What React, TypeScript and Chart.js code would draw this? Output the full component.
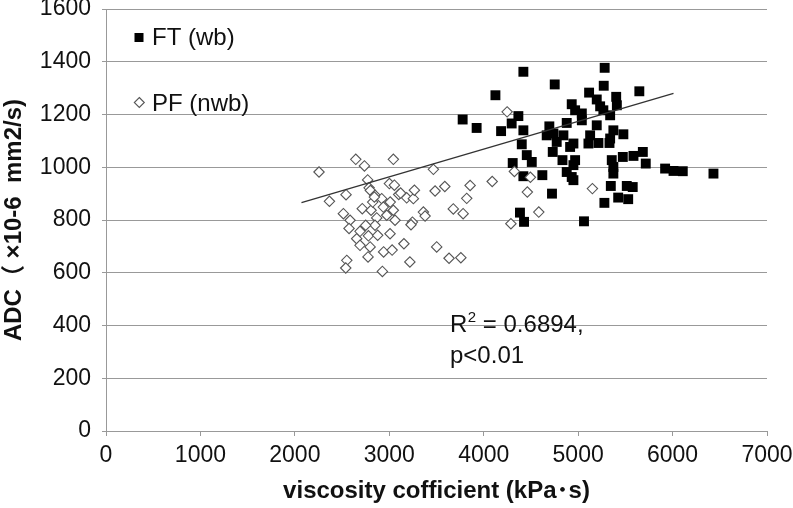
import { useEffect, useRef } from "react";
import { Chart, registerables } from "chart.js";

Chart.register(...registerables);

const FONT = "'Liberation Sans', Arial, 'Noto Sans CJK JP', sans-serif";

// FT (wb) — filled squares
const ftX = [4420, 5281, 4752, 4124, 5271, 5648, 5116, 5197, 5403, 4932, 5233, 5410, 4968, 5039, 5267, 5339, 4367, 3777, 4296, 5039, 4879, 5197, 3925, 4184, 4420, 4695, 5373, 5479, 4667, 4738, 4844, 5127, 5339, 4773, 4403, 4950, 5109, 5215, 5332, 4915, 4731, 4456, 4509, 4307, 4834, 4968, 4950, 5356, 5473, 5586, 5685, 5716, 5373, 5921, 6010, 6108, 6433, 4879, 5373, 4420, 4621, 4932, 4950, 5346, 5515, 5578, 4723, 5424, 5530, 5278, 4384, 4427, 5062];
const ftY = [1362, 1377, 1314, 1273, 1309, 1288, 1283, 1257, 1267, 1239, 1231, 1235, 1216, 1204, 1216, 1197, 1194, 1181, 1166, 1178, 1168, 1159, 1149, 1137, 1140, 1155, 1140, 1125, 1121, 1128, 1121, 1121, 1109, 1096, 1087, 1090, 1090, 1092, 1092, 1077, 1058, 1046, 1020, 1016, 1027, 1027, 1008, 1027, 1039, 1043, 1058, 1014, 1001, 995, 986, 985, 976, 982, 976, 966, 970, 963, 951, 929, 929, 925, 900, 885, 879, 865, 828, 793, 795];

// PF (nwb) — open diamonds
const pfX = [2256, 2366, 2542, 2514, 2585, 2574, 2655, 2550, 2539, 2645, 2737, 3043, 2771, 2786, 2800, 3001, 3054, 3100, 3120, 3184, 3255, 3266, 2849, 2920, 3010, 2714, 2807, 2937, 3043, 3361, 3379, 3245, 3061, 2973, 2867, 2849, 2750, 2690, 2779, 2877, 3008, 2690, 2797, 2775, 2940, 3030, 3155, 3502, 3218, 3633, 3758, 2927, 3467, 3485, 3588, 3856, 4090, 3820, 3678, 3782, 4325, 4494, 4462, 4583, 4288, 4248, 5151, 2824, 2842, 3230];
const pfY = [982, 871, 896, 824, 799, 768, 729, 647, 618, 1030, 1005, 1030, 952, 922, 912, 938, 932, 897, 902, 884, 881, 913, 894, 881, 868, 843, 837, 849, 837, 830, 815, 792, 799, 818, 808, 780, 780, 757, 740, 742, 748, 704, 698, 660, 679, 686, 710, 698, 641, 655, 657, 605, 992, 910, 927, 931, 946, 882, 842, 824, 984, 962, 906, 830, 786, 1210, 919, 868, 887, 782];

// trend line end points
const trendX = [2070, 6010];
const trendY = [866, 1280];

const seriesLabels = ["FT (wb)", "PF (nwb)"];
const xTitle = "viscosity cofficient (kPa･s)";
const yTitle = "ADC（ ×10-6  mm2/s)";
const annoLine1 = ["R", "2", " = 0.6894,"];
const annoLine2 = "p<0.01";

const toPts = (xs: number[], ys: number[]) => xs.map((x, i) => ({ x, y: ys[i] }));

const insideLegend = {
  id: "insideLegend",
  afterDraw(chart: any) {
    const ctx = chart.ctx as CanvasRenderingContext2D;
    ctx.save();
    ctx.font = `24px ${FONT}`;
    ctx.textBaseline = "middle";
    // FT square
    ctx.fillStyle = "#000";
    ctx.fillRect(134.5, 33, 9, 9);
    ctx.fillStyle = "#111";
    ctx.fillText(seriesLabels[0], 152, 38);
    // PF diamond
    ctx.beginPath();
    const cx = 139.3, cy = 102.5, r = 5;
    ctx.moveTo(cx, cy - r);
    ctx.lineTo(cx + r, cy);
    ctx.lineTo(cx, cy + r);
    ctx.lineTo(cx - r, cy);
    ctx.closePath();
    ctx.fillStyle = "#fff";
    ctx.fill();
    ctx.strokeStyle = "#555";
    ctx.lineWidth = 1.1;
    ctx.stroke();
    ctx.fillStyle = "#111";
    ctx.fillText(seriesLabels[1], 152, 104);
    ctx.restore();
  },
};

const annotation = {
  id: "r2note",
  afterDraw(chart: any) {
    const ctx = chart.ctx as CanvasRenderingContext2D;
    ctx.save();
    ctx.fillStyle = "#111";
    ctx.textBaseline = "alphabetic";
    let x = 450;
    ctx.font = `24px ${FONT}`;
    ctx.fillText(annoLine1[0], x, 332);
    x += ctx.measureText(annoLine1[0]).width + 0.5;
    ctx.font = `15px ${FONT}`;
    ctx.fillText(annoLine1[1], x, 322);
    x += ctx.measureText(annoLine1[1]).width;
    ctx.font = `24px ${FONT}`;
    ctx.fillText(annoLine1[2], x, 332);
    ctx.fillText(annoLine2, 450, 363);
    ctx.restore();
  },
};

export default function App() {
  const ref = useRef<HTMLCanvasElement>(null);
  useEffect(() => {
    if (!ref.current) return;
    const chart = new Chart(ref.current, {
      type: "scatter",
      data: {
        datasets: [
          {
            label: "trend",
            data: toPts(trendX, trendY),
            showLine: true,
            borderColor: "#333",
            borderWidth: 1.3,
            pointRadius: 0,
            fill: false,
          } as any,
          {
            label: seriesLabels[1],
            data: toPts(pfX, pfY),
            pointStyle: "rectRot",
            pointRadius: 5.2,
            backgroundColor: "#fff",
            borderColor: "#555",
            borderWidth: 1.1,
          },
          {
            label: seriesLabels[0],
            data: toPts(ftX, ftY),
            pointStyle: "rect",
            pointRadius: 7,
            backgroundColor: "#000",
            borderColor: "#000",
            borderWidth: 0,
          },
        ],
      },
      options: {
        responsive: false,
        animation: false,
        events: [],
        layout: { padding: { left: 0, right: 26, top: 9, bottom: 0 } },
        plugins: {
          legend: { display: false },
          tooltip: { enabled: false },
        },
        scales: {
          x: {
            type: "linear",
            min: 0,
            max: 7000,
            ticks: {
              stepSize: 1000,
              color: "#111",
              font: { family: FONT, size: 23 },
              padding: 6,
              maxRotation: 0,
              callback: (v: any) => String(v),
            },
            grid: {
              display: true,
              drawOnChartArea: false,
              drawTicks: true,
              tickLength: 5,
              color: "#999",
            },
            border: { display: true, color: "#999" },
            title: {
              display: true,
              text: xTitle,
              color: "#111",
              font: { family: FONT, size: 24, weight: "bold" },
              padding: { top: 0, bottom: 2 },
            },
            afterFit: (s: any) => {
              s.height = 77;
              s.paddingLeft = 0;
              s.paddingRight = 0;
            },
          },
          y: {
            min: 0,
            max: 1600,
            ticks: {
              stepSize: 200,
              color: "#111",
              font: { family: FONT, size: 23 },
              padding: 11,
              callback: (v: any) => String(v),
            },
            grid: {
              color: "#999",
              tickLength: 4,
            },
            border: { display: true, color: "#999" },
            title: {
              display: true,
              text: yTitle,
              color: "#111",
              font: { family: FONT, size: 24, weight: "bold" },
              padding: { top: 0, bottom: 0 },
            },
            afterFit: (s: any) => {
              s.width = 106;
              s.paddingTop = 0;
              s.paddingBottom = 0;
            },
          },
        },
      },
      plugins: [insideLegend, annotation],
    });
    return () => chart.destroy();
  }, []);
  return (
    <div style={{ position: "absolute", left: 0, top: 0, width: 793, height: 508, background: "#fff" }}>
      <canvas ref={ref} width={793} height={508} style={{ display: "block", width: 793, height: 508 }} />
    </div>
  );
}
